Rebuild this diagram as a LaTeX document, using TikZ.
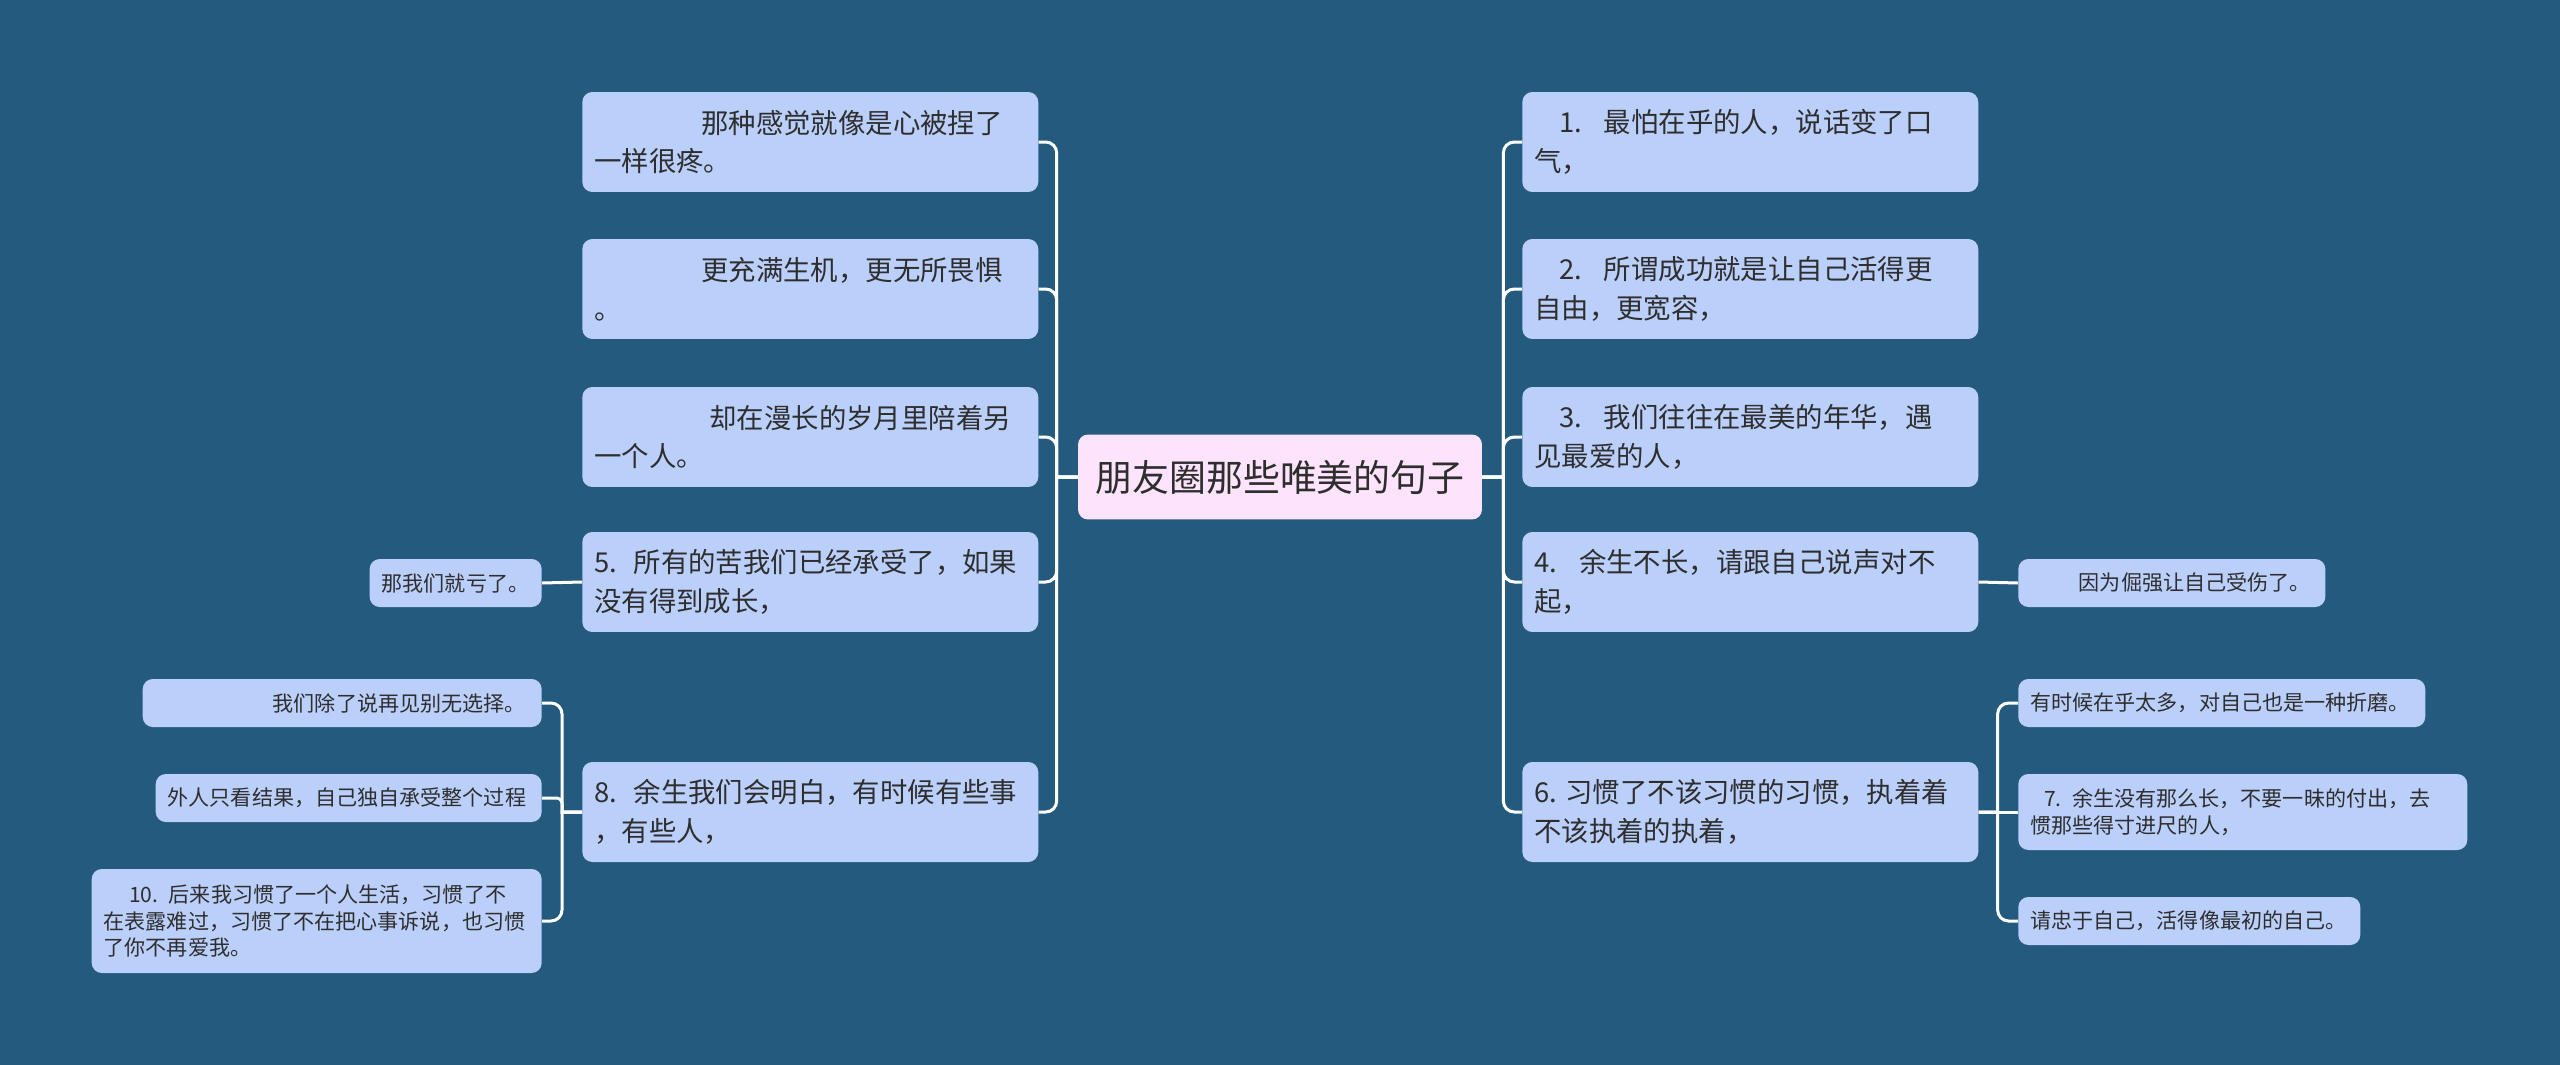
\documentclass[tikz,border=0pt]{standalone}
\usepackage{fontspec}
\setmainfont{Noto Sans CJK SC}
\usepackage{xcolor}
\usetikzlibrary{positioning}
\definecolor{bgblue}{HTML}{245A7D}
\definecolor{boxblue}{HTML}{BBCFFB}
\definecolor{titlepink}{HTML}{FDE4FC}
\definecolor{inkgray}{HTML}{2E2E2E}

\begin{document}
\begin{tikzpicture}[
  x=0.02cm, y=-0.02cm,
  topic/.style={fill=titlepink, rounded corners=0.2cm, text=inkgray, font=\fontsize{21}{25}\selectfont, minimum width=8.08cm, minimum height=1.7cm, inner sep=0pt},
  item/.style={fill=boxblue, rounded corners=0.2cm, text=inkgray, font=\fontsize{15.6}{22}\selectfont, align=left, text width=8.64cm, minimum height=2cm, inner xsep=0.24cm, inner ysep=0pt},
  leaf/.style={fill=boxblue, rounded corners=0.2cm, text=inkgray, font=\fontsize{12}{15}\selectfont, align=left, minimum height=0.96cm, inner xsep=0.24cm, inner ysep=0pt},
  link/.style={draw=white, line width=0.06cm},
  elbow/.style={rounded corners=0.22cm}
]
  \fill[bgblue] (0,0) rectangle (2560,1065);
  \useasboundingbox (0,0) rectangle (2560,1065);

  \node[topic] (title) at (1280,477) {朋友圈那些唯美的句子};

  % left side
  \node[item, anchor=west] (l1) at (582,142) {\hspace*{3.9em}那种感觉就像是心被捏了\\一样很疼。};
  \node[item, anchor=west] (l2) at (582,289) {\hspace*{3.9em}更充满生机，更无所畏惧\\。};
  \node[item, anchor=west] (l3) at (582,437) {\hspace*{4.2em}却在漫长的岁月里陪着另\\一个人。};
  \node[item, anchor=west] (l5) at (582,582) {5.\hspace*{0.6em}所有的苦我们已经承受了，如果\\没有得到成长，};
  \node[item, anchor=west] (l8) at (582,812) {8.\hspace*{0.6em}余生我们会明白，有时候有些事\\，有些人，};

  \node[leaf, anchor=east, text width=2.96cm] (t1) at (542,583) {那我们就亏了。};
  \node[leaf, anchor=east, text width=7.5cm] (t2) at (542,703) {\hspace*{5.6em}我们除了说再见别无选择。};
  \node[leaf, anchor=east, text width=7.24cm] (t3) at (542,798) {外人只看结果，自己独自承受整个过程};
  \node[leaf, anchor=east, text width=8.52cm, minimum height=2.08cm] (t4) at (542,921) {\hspace*{1.2em}10.\hspace*{0.5em}后来我习惯了一个人生活，习惯了不\\在表露难过，习惯了不在把心事诉说，也习惯\\了你不再爱我。};

  % right side
  \node[item, anchor=west] (r1) at (1522,142) {\hspace*{0.9em}1.\hspace*{0.8em}最怕在乎的人，说话变了口\\气，};
  \node[item, anchor=west] (r2) at (1522,289) {\hspace*{0.9em}2.\hspace*{0.8em}所谓成功就是让自己活得更\\自由，更宽容，};
  \node[item, anchor=west] (r3) at (1522,437) {\hspace*{0.9em}3.\hspace*{0.8em}我们往往在最美的年华，遇\\见最爱的人，};
  \node[item, anchor=west] (r4) at (1522,582) {4.\hspace*{0.8em}余生不长，请跟自己说声对不\\起，};
  \node[item, anchor=west] (r6) at (1522,812) {6.\hspace*{0.3em}习惯了不该习惯的习惯，执着着\\不该执着的执着，};

  \node[leaf, anchor=west, text width=5.66cm] (s4) at (2018,583) {\hspace*{2.3em}因为倔强让自己受伤了。};
  \node[leaf, anchor=west, text width=7.66cm] (s6a) at (2018,703) {有时候在乎太多，对自己也是一种折磨。};
  \node[leaf, anchor=west, text width=8.5cm, minimum height=1.52cm] (s6b) at (2018,812) {\hspace*{0.65em}7.\hspace*{0.5em}余生没有那么长，不要一昧的付出，去\\惯那些得寸进尺的人，};
  \node[leaf, anchor=west, text width=6.36cm] (s6c) at (2018,921) {请忠于自己，活得像最初的自己。};

  % connectors
  \foreach \k in {l1,l2,l3,l5,l8}
    \draw[link] (title.west) -- ++(-21,0) [elbow] |- (\k.east);
  \foreach \k in {r1,r2,r3,r4,r6}
    \draw[link] (title.east) -- ++(21,0) [elbow] |- (\k.west);
  \draw[link] (l5.west) -- (t1.east);
  \draw[link] (r4.east) -- (s4.west);
  \foreach \k in {t2,t4}
    \draw[link] (l8.west) -- ++(-20,0) [elbow] |- (\k.east);
  \draw[link] (l8.west) -- ++(-20,0) [rounded corners=0.1cm] |- (t3.east);
  \foreach \k in {s6a,s6c}
    \draw[link] (r6.east) -- ++(19,0) [elbow] |- (\k.west);
  \draw[link] (r6.east) -- (s6b.west);
\end{tikzpicture}
\end{document}
